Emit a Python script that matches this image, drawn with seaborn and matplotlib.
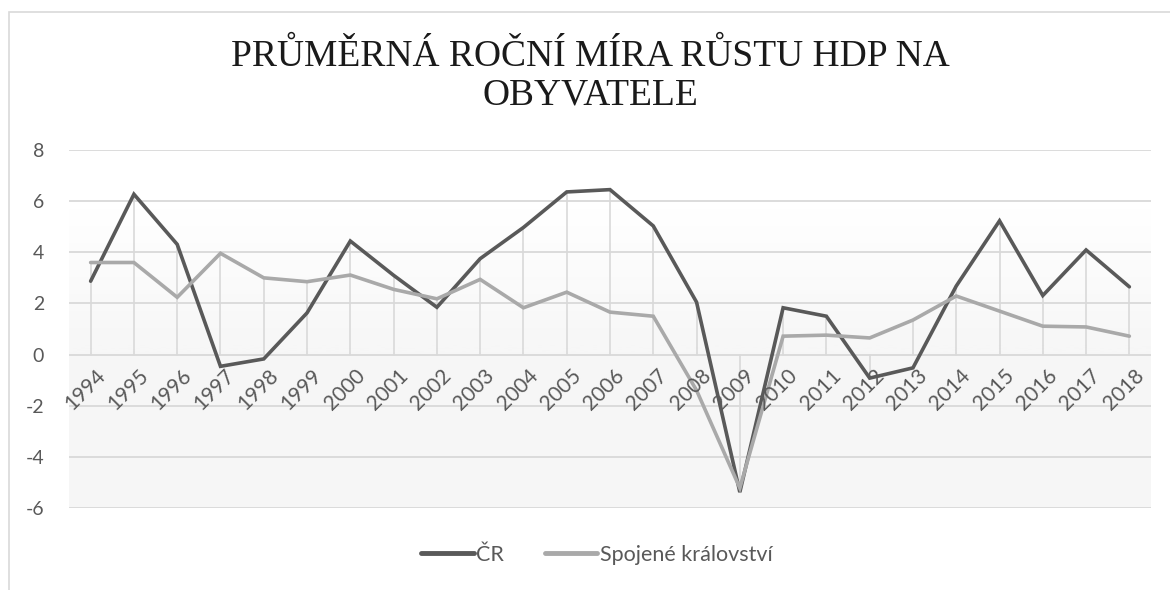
import numpy as np
import pandas as pd
import matplotlib.pyplot as plt
import seaborn as sns
from matplotlib.patches import Rectangle
from matplotlib.lines import Line2D

plt.switch_backend('Agg')

years = [str(y) for y in range(1994, 2019)]
cr = [2.87, 6.27, 4.31, -0.46, -0.17, 1.63, 4.44, 3.1, 1.85, 3.75, 4.97, 6.36,
      6.45, 5.03, 2.05, -5.38, 1.83, 1.5, -0.92, -0.52, 2.68, 5.23, 2.31, 4.09, 2.65]
uk = [3.6, 3.6, 2.24, 3.96, 3.0, 2.85, 3.11, 2.55, 2.18, 2.94, 1.83, 2.44,
      1.66, 1.5, -1.4, -5.22, 0.72, 0.76, 0.65, 1.35, 2.29, 1.7, 1.11, 1.08, 0.72]
series_names = ['ČR', 'Spojené království']
colors = ['#595959', '#a9a9a9']
title = 'PRŮMĚRNÁ ROČNÍ MÍRA RŮSTU HDP NA\nOBYVATELE'

df = pd.DataFrame({
    'rok': years * 2,
    'pos': list(range(len(years))) * 2,
    'hodnota': cr + uk,
    'zeme': [series_names[0]] * len(years) + [series_names[1]] * len(years),
})

sns.set_style('white')
plt.rcParams['font.family'] = ['Lato', 'DejaVu Sans']

fig = plt.figure(figsize=(11.7, 5.9), dpi=100)
ax = fig.add_axes([69 / 1170, 1 - 508 / 590, 1082 / 1170, 358 / 590])

# outer chart border (left and top visible)
fig.patches.append(Rectangle((8.5 / 1170, -0.1), 1.2, 1.1 - 12 / 590, transform=fig.transFigure,
                             fill=False, edgecolor='#d9d9d9', linewidth=1.2))

# gradient background of the plot area
grad = np.ones((256, 1))
yy = np.linspace(8, -6, 256)
grad[:, 0] = np.clip((6 - yy) / 6, 0, 1)
ax.imshow(grad, extent=[-0.5, 24.5, -6, 8], aspect='auto', cmap='Greys',
          vmin=0, vmax=14, zorder=0, interpolation='bilinear')

for v in range(-6, 9, 2):
    ax.axhline(v, color='#d9d9d9', linewidth=1.3, zorder=1)

# drop lines
for i in range(len(years)):
    top = max(cr[i], uk[i])
    bot = min(cr[i], uk[i])
    end = bot if bot < 0 and abs(bot) > top else top
    ax.plot([i, i], [0, end], color='#d9d9d9', linewidth=1.2, zorder=1)

sns.lineplot(data=df, x='pos', y='hodnota', hue='zeme', palette=colors,
             linewidth=2.6, ax=ax, legend=False, zorder=3,
             solid_joinstyle='miter')

ax.set_xlim(-0.5, 24.5)
ax.set_ylim(-6, 8)
ax.set_xticks([])
ax.set_yticks(range(-6, 9, 2))
ax.set_yticklabels([str(v) for v in range(-6, 9, 2)], fontsize=14, color='#595959')
ax.tick_params(axis='y', length=0, pad=18)
ax.set_xlabel('')
ax.set_ylabel('')
for s in ax.spines.values():
    s.set_visible(False)

for i, y in enumerate(years):
    ax.annotate(y, (i, 0), xytext=(3, -8), textcoords='offset points',
                rotation=45, ha='right', va='top', rotation_mode='anchor',
                fontsize=15, color='#595959')

fig.text(0.505, 1 - 76 / 590, title, ha='center', va='center', fontsize=27,
         family='Liberation Serif', color='#1a1a1a', linespacing=1.12)

handles = [Line2D([], [], color=c, linewidth=3.5) for c in colors]
fig.legend(handles, series_names, loc='center', bbox_to_anchor=(0.51, 1 - 555 / 590),
           ncol=2, frameon=False, fontsize=15.5, labelcolor='#595959',
           handlelength=2.45, handletextpad=0.1, columnspacing=1.9)

fig.savefig('out.png', dpi=100)
plt.close(fig)
